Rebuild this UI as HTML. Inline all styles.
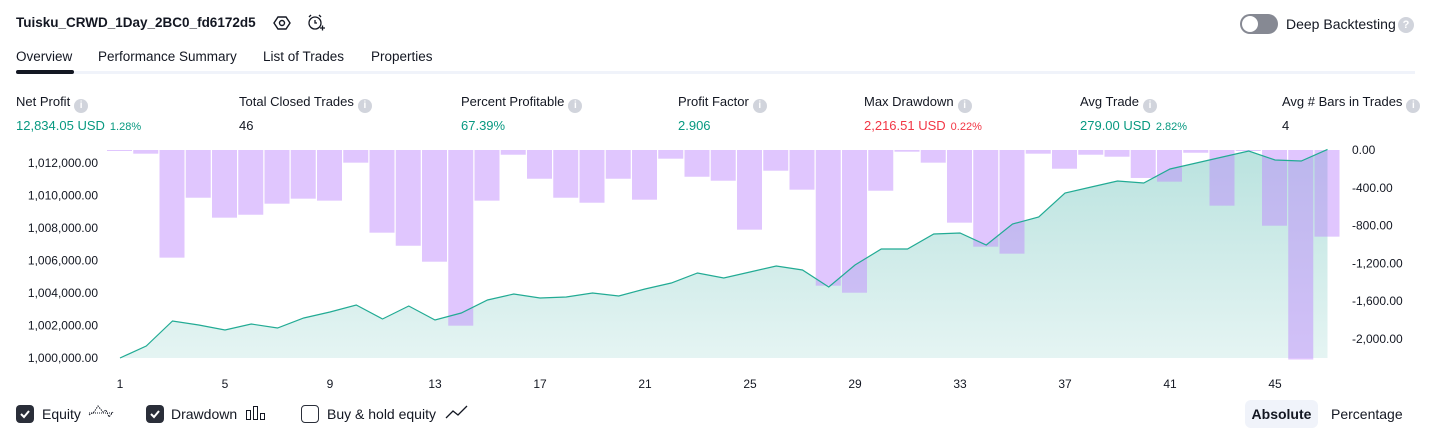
<!DOCTYPE html>
<html><head><meta charset="utf-8">
<style>
*{box-sizing:border-box;margin:0;padding:0}
body{width:1431px;height:438px;background:#fff;font-family:"Liberation Sans",sans-serif;color:#131722;position:relative;overflow:hidden;font-size:13px}
.a{position:absolute;white-space:nowrap}
.info{display:inline-block;width:14px;height:14px;border-radius:50%;background:#d1d4dc;color:#fff;font-size:10px;text-align:center;line-height:14px;font-weight:bold;vertical-align:-2px;margin-left:4px}
.lbl{font-size:13px;color:#131722}
.val{font-size:13px}
.pct{font-size:11px;margin-left:5px}
.g{color:#089981}.r{color:#f23645}
.cb{position:absolute;width:18px;height:18px;border-radius:4px;top:405px}
.cb.on{background:#2a2e39}
.cb.off{border:1.5px solid #2a2e39;background:#fff}
</style></head><body>
<div class="a" style="left:16px;top:15px;font-weight:bold;font-size:13.5px">Tuisku_CRWD_1Day_2BC0_fd6172d5</div>
<svg class="a" style="left:273px;top:14px" width="18" height="18" viewBox="0 0 18 18"><polygon points="5,3 13,3 17,9 13,15 5,15 1,9" fill="none" stroke="#131722" stroke-width="1.4"/><circle cx="9" cy="9" r="2.5" fill="none" stroke="#131722" stroke-width="1.4"/></svg>
<svg class="a" style="left:306px;top:13px" width="20" height="20" viewBox="0 0 20 20"><circle cx="9" cy="10" r="6" fill="none" stroke="#131722" stroke-width="1.3"/><path d="M9 7v3h2M3 4l2-2M15 4l-2-2M14 15h5M16.5 12.5v5" fill="none" stroke="#131722" stroke-width="1.3"/></svg>
<div class="a" style="left:1240px;top:14px;width:38px;height:20px;border-radius:10px;background:#868993"><div style="position:absolute;left:2px;top:2px;width:16px;height:16px;border-radius:50%;background:#fff"></div></div>
<div class="a" style="left:1286px;top:16px;font-size:14px">Deep Backtesting</div>
<div class="a" style="left:1398px;top:17px;width:16px;height:16px;border-radius:50%;background:#d1d4dc;color:#fff;font-size:11px;font-weight:bold;text-align:center;line-height:16px">?</div>

<div class="a" style="left:16px;top:49px;font-size:13.5px">Overview</div>
<div class="a" style="left:98px;top:49px;font-size:13.5px">Performance Summary</div>
<div class="a" style="left:263px;top:49px;font-size:13.5px">List of Trades</div>
<div class="a" style="left:371px;top:49px;font-size:13.5px">Properties</div>
<div class="a" style="left:16px;top:71px;width:1399px;height:3px;background:#f0f3fa"></div>
<div class="a" style="left:16px;top:70px;width:58px;height:4px;border-radius:2px;background:#131722"></div>

<div class="a" style="left:16px;top:94px"><div class="lbl">Net Profit<span class="info">i</span></div><div class="val g" style="margin-top:5px">12,834.05 USD<span class="pct">1.28%</span></div></div>
<div class="a" style="left:239px;top:94px"><div class="lbl">Total Closed Trades<span class="info">i</span></div><div class="val" style="margin-top:5px">46</div></div>
<div class="a" style="left:461px;top:94px"><div class="lbl">Percent Profitable<span class="info">i</span></div><div class="val g" style="margin-top:5px">67.39%</div></div>
<div class="a" style="left:678px;top:94px"><div class="lbl">Profit Factor<span class="info">i</span></div><div class="val g" style="margin-top:5px">2.906</div></div>
<div class="a" style="left:864px;top:94px"><div class="lbl">Max Drawdown<span class="info">i</span></div><div class="val r" style="margin-top:5px">2,216.51 USD<span class="pct">0.22%</span></div></div>
<div class="a" style="left:1080px;top:94px"><div class="lbl">Avg Trade<span class="info">i</span></div><div class="val g" style="margin-top:5px">279.00 USD<span class="pct">2.82%</span></div></div>
<div class="a" style="left:1282px;top:94px"><div class="lbl">Avg # Bars in Trades<span class="info">i</span></div><div class="val" style="margin-top:5px">4</div></div>

<svg class="a" id="chart" style="left:0;top:0" width="1431" height="438"></svg>

<div class="cb on" style="left:16px"><svg width="18" height="18"><path d="M5 9l3 3 5-6" fill="none" stroke="#fff" stroke-width="2"/></svg></div>
<div class="a" style="left:42px;top:406px;font-size:14px">Equity</div>
<svg class="a" style="left:88px;top:404px" width="26" height="16"><path d="M1 11l5-3 4-6 5 6 3-2 3 7 4-5" fill="none" stroke="#131722" stroke-width="1" stroke-dasharray="1.5 1"/><line x1="1" y1="9" x2="25" y2="9" stroke="#131722" stroke-dasharray="1 1"/></svg>
<div class="cb on" style="left:146px"><svg width="18" height="18"><path d="M5 9l3 3 5-6" fill="none" stroke="#fff" stroke-width="2"/></svg></div>
<div class="a" style="left:171px;top:406px;font-size:14px">Drawdown</div>
<svg class="a" style="left:245px;top:405px" width="22" height="16"><rect x="1.5" y="5.5" width="4" height="9" fill="none" stroke="#131722"/><rect x="8.5" y="1.5" width="4" height="13" fill="none" stroke="#131722"/><rect x="15.5" y="8.5" width="4" height="6" fill="none" stroke="#131722"/></svg>
<div class="cb off" style="left:301px"></div>
<div class="a" style="left:327px;top:406px;font-size:14px">Buy &amp; hold equity</div>
<svg class="a" style="left:445px;top:404px" width="24" height="16"><path d="M1 14l7-7 5 4 9-9" fill="none" stroke="#131722" stroke-width="1.3"/></svg>

<div class="a" style="left:1245px;top:400px;width:73px;height:28px;border-radius:6px;background:#f0f3fa;font-weight:bold;font-size:14px;text-align:center;line-height:28px">Absolute</div>
<div class="a" style="left:1331px;top:406px;font-size:14px">Percentage</div>

<script>
const trades = [];
for (let i = 1; i <= 47; i++) trades.push(i);
const equity = [1000000,1000738,1002277,1002031,1001723,1002092,1001846,1002462,1002831,1003262,1002400,1003200,1002338,1002769,1003569,1003938,1003692,1003754,1004000,1003815,1004246,1004615,1005231,1004923,1005292,1005662,1005415,1004369,1005723,1006708,1006708,1007631,1007692,1006954,1008246,1008677,1010154,1010523,1010892,1010769,1011631,1012000,1012369,1012738,1012185,1012123,1012834];
const drawdown = [-7,-39,-1139,-505,-716,-685,-568,-515,-536,-134,-875,-1013,-1182,-1859,-536,-50,-304,-505,-558,-304,-526,-92,-283,-325,-843,-219,-420,-1436,-1510,-431,-18,-134,-769,-1023,-1097,-39,-198,-50,-71,-296,-335,-29,-589,0,-801,-2217,-917];
const leftTicks = [1000000,1002000,1004000,1006000,1008000,1010000,1012000];
const rightTicks = [0,-400,-800,-1200,-1600,-2000];
const xTicks = [1,5,9,13,17,21,25,29,33,37,41,45];

const NS = 'http://www.w3.org/2000/svg';
const svg = document.getElementById('chart');
const xS = t => 120 + (t - 1) * 26.25;
const yL = v => 358 - (v - 1000000) * 32.5 / 2000;
const yR = v => 150 - v * 189 / 2000;
function mk(tag, attrs) { const e = document.createElementNS(NS, tag); for (const k in attrs) e.setAttribute(k, attrs[k]); svg.appendChild(e); return e; }

const defs = mk('defs', {});
defs.innerHTML = '<linearGradient id="ag" x1="0" y1="0" x2="0" y2="1"><stop offset="0" stop-color="#26a69a" stop-opacity="0.32"/><stop offset="1" stop-color="#26a69a" stop-opacity="0.12"/></linearGradient>';

let pts = trades.map((t, i) => xS(t) + ',' + yL(equity[i]));
const area = mk('path', { d: 'M' + xS(1) + ',' + yL(1000000) + ' L' + pts.join(' L') + ' L' + xS(47) + ',' + yL(1000000) + 'Z', fill: 'url(#ag)' });



trades.forEach((t, i) => {
  const top = yR(0), bot = yR(drawdown[i]);
  const b = mk('rect', { x: xS(t) - 13, y: top, width: 25, height: Math.max(bot - top, 1), fill: 'rgb(190,135,252)', 'fill-opacity': 0.48 });
  
  
});

const line = mk('polyline', { points: pts.join(' '), fill: 'none', stroke: '#22ab94', 'stroke-width': 1.2 });



leftTicks.forEach(v => {
  const t = mk('text', { x: 98, y: yL(v) + 4, 'text-anchor': 'end', 'font-size': 12, fill: '#131722', 'font-family': 'Liberation Sans, sans-serif' });
  t.textContent = v.toLocaleString('en-US', { minimumFractionDigits: 2 });
  
  
});
rightTicks.forEach(v => {
  const t = mk('text', { x: 1352, y: yR(v) + 4, 'font-size': 12, fill: '#131722', 'font-family': 'Liberation Sans, sans-serif' });
  t.textContent = v.toLocaleString('en-US', { minimumFractionDigits: 2 });
  
  
});
xTicks.forEach(v => {
  const t = mk('text', { x: xS(v), y: 388, 'text-anchor': 'middle', 'font-size': 12, fill: '#131722', 'font-family': 'Liberation Sans, sans-serif' });
  t.textContent = v;
  
  
});
</script>
</body></html>
